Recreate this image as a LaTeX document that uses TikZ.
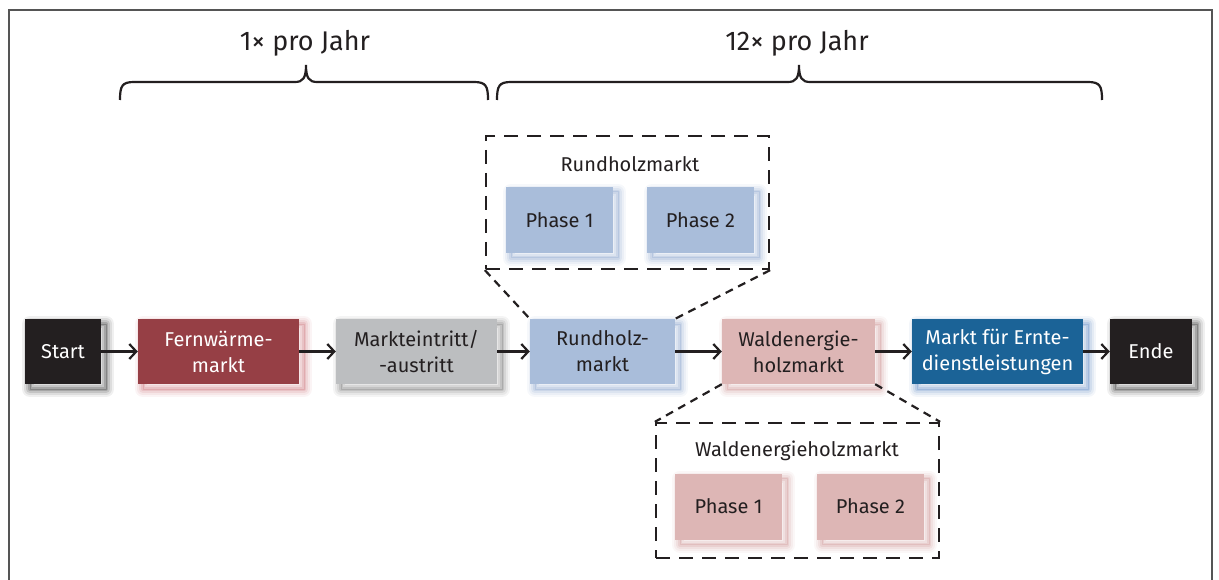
\documentclass[tikz,border=0pt]{standalone}
\usepackage{fontspec}
\setmainfont{Fira Sans}
\usetikzlibrary{arrows.meta}
\definecolor{startblack}{HTML}{231F20}
\definecolor{fernred}{HTML}{963F45}
\definecolor{marktgray}{HTML}{BCBEC0}
\definecolor{rundblue}{HTML}{A9BDDA}
\definecolor{waldpink}{HTML}{DDB6B5}
\definecolor{ernteblue}{HTML}{1B6397}
\definecolor{framegray}{HTML}{555555}
\definecolor{txtdark}{HTML}{231F20}
\definecolor{shred}{HTML}{C0505A}
\definecolor{shgray}{HTML}{505050}
\definecolor{shblue}{HTML}{6A8CC0}
\definecolor{shpink}{HTML}{C47A7A}
\definecolor{shdblue}{HTML}{3A70B8}
\tikzset{
  shl/.style n args={3}{preaction={draw=#1, line width=#2, draw opacity=#3, line join=round, transform canvas={shift={(5pt,-5pt)}}}},
  shadowc/.style={shl={#1}{16pt}{0.06}, shl={#1}{12pt}{0.08}, shl={#1}{8pt}{0.11}, shl={#1}{4pt}{0.15}, shl={#1}{1pt}{0.2}},
  mbox/.style={minimum height=65pt, inner sep=0pt, align=center,
    font=\fontsize{20}{26}\selectfont},
  phasebox/.style={minimum width=107pt, minimum height=66pt, inner sep=0pt,
    font=\fontsize{20}{26}\selectfont, text=txtdark},
  frm/.style={draw=startblack, line width=2.3pt, dash pattern=on 14pt off 9pt},
  diag/.style={draw=startblack, line width=2.2pt, dash pattern=on 8pt off 6pt},
  arr/.style={draw=startblack, line width=2.2pt, -{Straight Barb[length=7pt,width=15pt,line width=2.2pt]}},
  brc/.style={draw=startblack, line width=2.2pt},
  lbl/.style={font=\fontsize{20}{26}\selectfont, text=txtdark, inner sep=0pt},
  toplbl/.style={font=\fontsize{27}{32}\selectfont, text=txtdark, inner sep=0pt}
}
\begin{document}
\begin{tikzpicture}[x=1pt,y=-1pt]
\useasboundingbox (0,0) rectangle (1219,580);
\fill[white] (0,0) rectangle (1219,580);
% outer frame
\draw[framegray, line width=2pt] (8.5,580) -- (8.5,10) -- (1212,10) -- (1212,580);

% braces
\draw[brc] (120,100) .. controls (120,86) and (122,82) .. (134,82) -- (295,82)
  .. controls (303,82) and (306,78) .. (306,65) .. controls (306,78) and (309,82) .. (317,82)
  -- (474,82) .. controls (486,82) and (488,86) .. (488,100);
\draw[brc] (497,100) .. controls (497,86) and (499,82) .. (511,82) -- (788,82)
  .. controls (796,82) and (799,78) .. (799,65) .. controls (799,78) and (802,82) .. (810,82)
  -- (1088,82) .. controls (1100,82) and (1102,86) .. (1102,100);
\node[toplbl] (l1) at (305,43) {1× pro Jahr};
\node[toplbl] (l12) at (797,43) {12× pro Jahr};

% main row
\node[mbox, shadowc=black, fill=startblack, text=white, minimum width=76pt] (start) at (63,351.5) {Start};
\node[mbox, shadowc=shred, fill=fernred, text=white, minimum width=161pt] (fern) at (218.5,351.5) {Fernwärme-\\markt};
\node[mbox, shadowc=shgray, fill=marktgray, text=txtdark, minimum width=161pt] (markt) at (416.5,351.5) {Markteintritt/\\-austritt};
\node[mbox, shadowc=shblue, fill=rundblue, text=txtdark, minimum width=145pt] (rund) at (602.5,351.5) {Rundholz-\\markt};
\node[mbox, shadowc=shpink, fill=waldpink, text=txtdark, minimum width=153pt] (wald) at (798.5,351.5) {Waldenergie-\\holzmarkt};
\node[mbox, shadowc=shdblue, fill=ernteblue, text=white, minimum width=171pt] (ernte) at (997.5,351.5) {Markt für Ernte-\\dienstleistungen};
\node[mbox, shadowc=black, fill=startblack, text=white, minimum width=82pt] (ende) at (1151,351.5) {Ende};

\draw[arr] (start) -- (fern);
\draw[arr] (fern) -- (markt);
\draw[arr] (markt) -- (rund);
\draw[arr] (rund) -- (wald);
\draw[arr] (wald) -- (ernte);
\draw[arr] (ernte) -- (ende);

% Rundholzmarkt detail
\node[frm, minimum width=283pt, minimum height=133pt, inner sep=0pt] (rframe) at (627.5,202.5) {};
\node[lbl] (rlbl) at (630,164) {Rundholzmarkt};
\node[phasebox, shadowc=shblue, fill=rundblue] (rp1) at (559.5,220) {Phase 1};
\node[phasebox, shadowc=shblue, fill=rundblue] (rp2) at (700.5,220) {Phase 2};
\draw[diag] (rframe.south west) -- (rund.north west);
\draw[diag] (rframe.south east) -- (rund.north east);

% Waldenergieholzmarkt detail
\node[frm, minimum width=283pt, minimum height=135pt, inner sep=0pt] (wframe) at (797.5,490.5) {};
\node[lbl] (wlbl) at (797,451) {Waldenergieholzmarkt};
\node[phasebox, shadowc=shpink, fill=waldpink] (wp1) at (728.5,506.5) {Phase 1};
\node[phasebox, shadowc=shpink, fill=waldpink] (wp2) at (870.5,506.5) {Phase 2};
\draw[diag] (wald.south west) -- (wframe.north west);
\draw[diag] (wald.south east) -- (wframe.north east);
\end{tikzpicture}
\end{document}
